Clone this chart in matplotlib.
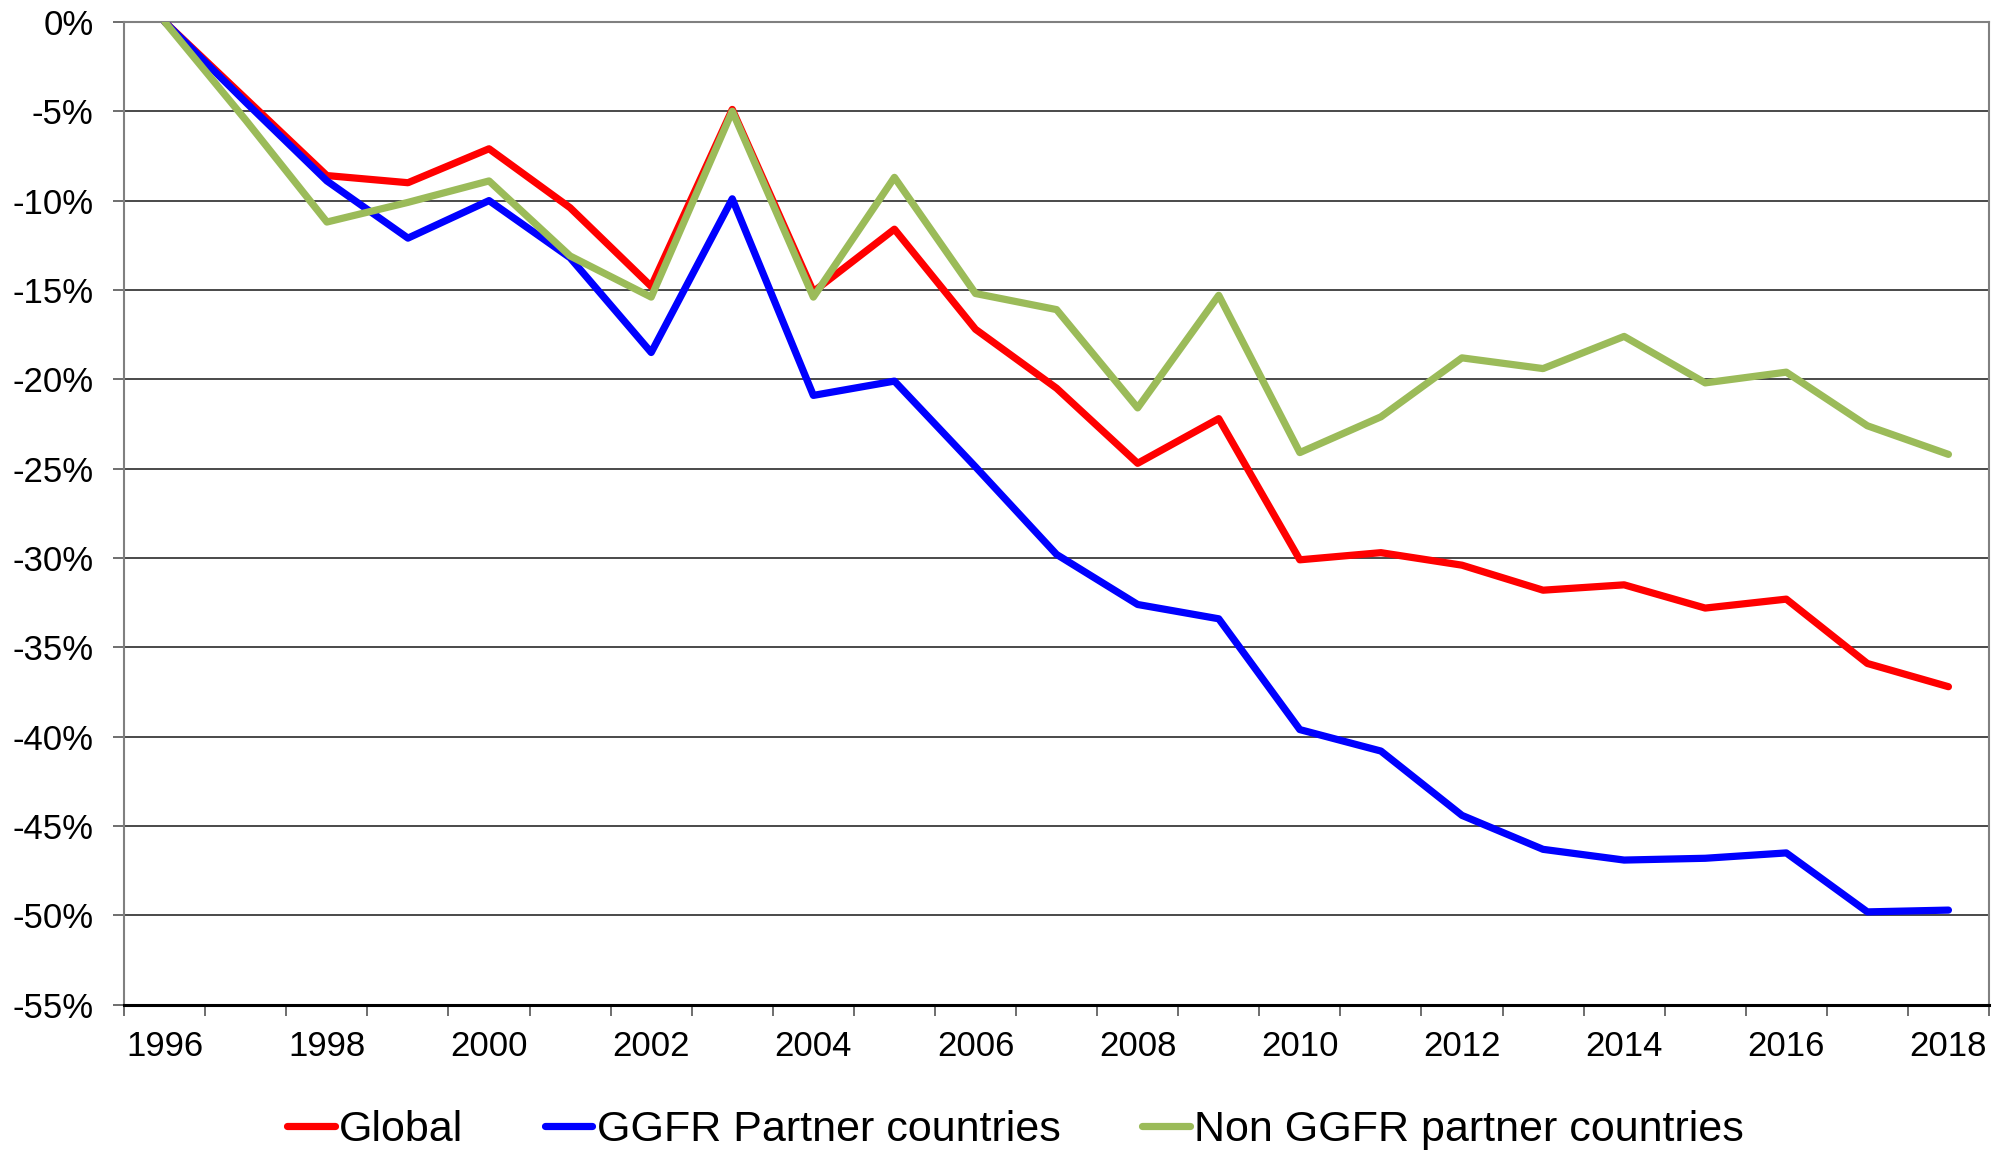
import numpy as np
import matplotlib
matplotlib.use('Agg')
matplotlib.rcParams['font.family'] = ['Liberation Sans', 'DejaVu Sans']
import matplotlib.pyplot as plt

years = list(range(1996, 2019))

glob = [0.0, -4.3, -8.6, -9.0, -7.1, -10.4, -14.8, -4.9, -15.1, -11.6, -17.2,
        -20.5, -24.7, -22.2, -30.1, -29.7, -30.4, -31.8, -31.5, -32.8, -32.3,
        -35.9, -37.2]
ggfr = [0.0, -4.5, -8.9, -12.1, -10.0, -13.2, -18.5, -9.9, -20.9, -20.1, -24.9,
        -29.8, -32.6, -33.4, -39.6, -40.8, -44.4, -46.3, -46.9, -46.8, -46.5,
        -49.8, -49.7]
non_ggfr = [0.0, -5.5, -11.2, -10.1, -8.9, -13.1, -15.4, -5.0, -15.4, -8.7, -15.2,
            -16.1, -21.6, -15.3, -24.1, -22.1, -18.8, -19.4, -17.6, -20.2, -19.6,
            -22.6, -24.2]

series = [
    ('Global', glob, '#FF0000'),
    ('GGFR Partner countries', ggfr, '#0000FF'),
    ('Non GGFR partner countries', non_ggfr, '#9BBB59'),
]

yticks = list(range(0, -60, -5))


def main():
    F = plt.figure(figsize=(20.03, 11.51), dpi=100)
    ax = F.add_axes([0.062, 0.127, 0.931, 0.854])

    x = np.arange(len(years))
    for name, vals, col in series:
        ax.plot(x, vals, color=col, lw=5.2, label=name, zorder=3,
                solid_capstyle='round')

    ax.set_xlim(-0.5, len(years) - 0.5)
    ax.set_ylim(-55, 0)

    # tick marks between categories, labels on every other year
    ax.set_xticks(np.arange(len(years) + 1) - 0.5)
    ax.set_xticklabels([])
    ax.set_xticks(x[::2], minor=True)
    ax.set_xticklabels([str(y) for y in years[::2]], minor=True, fontsize=25)
    ax.tick_params(axis='x', which='major', direction='out', length=8,
                   width=1.2, color='#555555')
    ax.tick_params(axis='x', which='minor', length=0, pad=18)

    ax.set_yticks(yticks)
    ax.set_yticklabels(['{}%'.format(v) for v in yticks], fontsize=25)
    ax.tick_params(axis='y', direction='out', length=8, width=1.2,
                   color='#555555', pad=14)

    ax.yaxis.grid(True, color='#3a3a3a', lw=1.3, zorder=1)
    ax.set_axisbelow(True)

    for s in ['left', 'right', 'top']:
        ax.spines[s].set_color('#808080')
        ax.spines[s].set_linewidth(1.5)
    ax.spines['bottom'].set_color('black')
    ax.spines['bottom'].set_linewidth(2.2)

    F.legend(loc='center', bbox_to_anchor=(0.507, 0.018), ncol=3, frameon=False,
             fontsize=31, handlelength=1.1, handletextpad=0.1,
             columnspacing=1.9)

    F.savefig('out.png', dpi=100)


if __name__ == '__main__':
    main()
